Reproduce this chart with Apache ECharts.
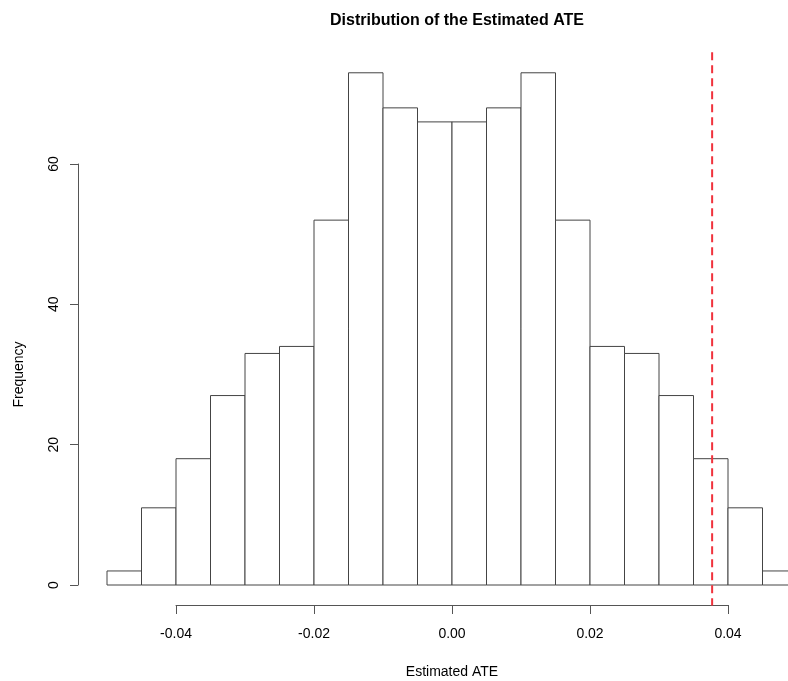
<!DOCTYPE html>
<html>
<head>
<meta charset="utf-8">
<script src="https://cdn.jsdelivr.net/npm/echarts@6/dist/echarts.min.js"></script>
<style>
html,body{margin:0;padding:0;background:#fff;}
#chart{width:788px;height:681px;}
</style>
</head>
<body>
<div id="chart"></div>
<script>
var breaks = [-0.05,-0.045,-0.04,-0.035,-0.03,-0.025,-0.02,-0.015,-0.01,-0.005,0,0.005,0.01,0.015,0.02,0.025,0.03,0.035,0.04,0.045,0.05];
var counts = [2,11,18,27,33,34,52,73,68,66,66,68,73,52,34,33,27,18,11,2];
var xTicks = [-0.04,-0.02,0,0.02,0.04];
var yTicks = [0,20,40,60];
var observedATE = [0.0377];

var histData = counts.map(function(c,i){ return [breaks[i], breaks[i+1], c]; });
var yMaxData = Math.max.apply(null, counts);

var font = 'Liberation Sans, Arial, sans-serif';
var chart = echarts.init(document.getElementById('chart'));
chart.setOption({
  animation:false,
  backgroundColor:'#fff',
  title:{text:'Distribution of the Estimated ATE', left:452, top:8, textAlign:'center',
    textStyle:{fontFamily:font, fontWeight:'bold', fontSize:16, color:'#000'}},
  grid:[
    {left:107, width:690, top:164, bottom:96, outerBoundsMode:'none', containLabel:false},
    {left:176, right:60, top:164, bottom:96, outerBoundsMode:'none', containLabel:false}
  ],
  xAxis:[
    {gridIndex:0, type:'value', min:breaks[0], max:breaks[breaks.length-1], show:false},
    {gridIndex:1, type:'value', min:xTicks[0], max:xTicks[xTicks.length-1], interval:0.02,
      offset:20, position:'bottom',
      axisLine:{show:true, onZero:false, lineStyle:{color:'#555', width:1}},
      axisTick:{show:true, length:9, lineStyle:{color:'#555'}},
      splitLine:{show:false},
      axisLabel:{margin:22, fontFamily:font, fontSize:14, color:'#000',
        formatter:function(v){ return v.toFixed(2); }},
      name:'Estimated ATE', nameLocation:'middle', nameGap:60,
      nameTextStyle:{fontFamily:font, fontSize:14, color:'#000'}}
  ],
  yAxis:[
    {gridIndex:0, type:'value', min:yTicks[0], max:yTicks[yTicks.length-1], interval:20,
      offset:29, position:'left',
      axisLine:{show:true, onZero:false, lineStyle:{color:'#555', width:1}},
      axisTick:{show:true, length:8, lineStyle:{color:'#555'}},
      splitLine:{show:false},
      axisLabel:{rotate:90, margin:17, fontFamily:font, fontSize:14, color:'#000'},
      name:'Frequency', nameLocation:'middle', nameGap:52, nameRotate:90,
      nameTextStyle:{fontFamily:font, fontSize:14, color:'#000'}},
    {gridIndex:1, type:'value', min:0, max:60, show:false}
  ],
  series:[
    {
      type:'custom', xAxisIndex:0, yAxisIndex:0, clip:false,
      data:histData,
      renderItem:function(params, api){
        var p0 = api.coord([api.value(0), api.value(2)]);
        var p1 = api.coord([api.value(1), 0]);
        return {type:'rect', shape:{x:p0[0], y:p0[1], width:p1[0]-p0[0], height:p1[1]-p0[1]},
          style:{fill:'#fff', stroke:'#444', lineWidth:1}};
      }
    },
    {
      type:'custom', xAxisIndex:0, yAxisIndex:0, clip:false, z:5,
      data:observedATE.map(function(v){ return [v]; }),
      renderItem:function(params, api){
        var top = api.coord([api.value(0), yMaxData*1.04]);
        var bot = api.coord([api.value(0), -yMaxData*0.04]);
        return {type:'line', shape:{x1:top[0], y1:top[1], x2:bot[0], y2:bot[1]},
          style:{stroke:'#f0323c', lineWidth:2, lineDash:[8,5]}};
      }
    }
  ]
});
</script>
</body>
</html>
